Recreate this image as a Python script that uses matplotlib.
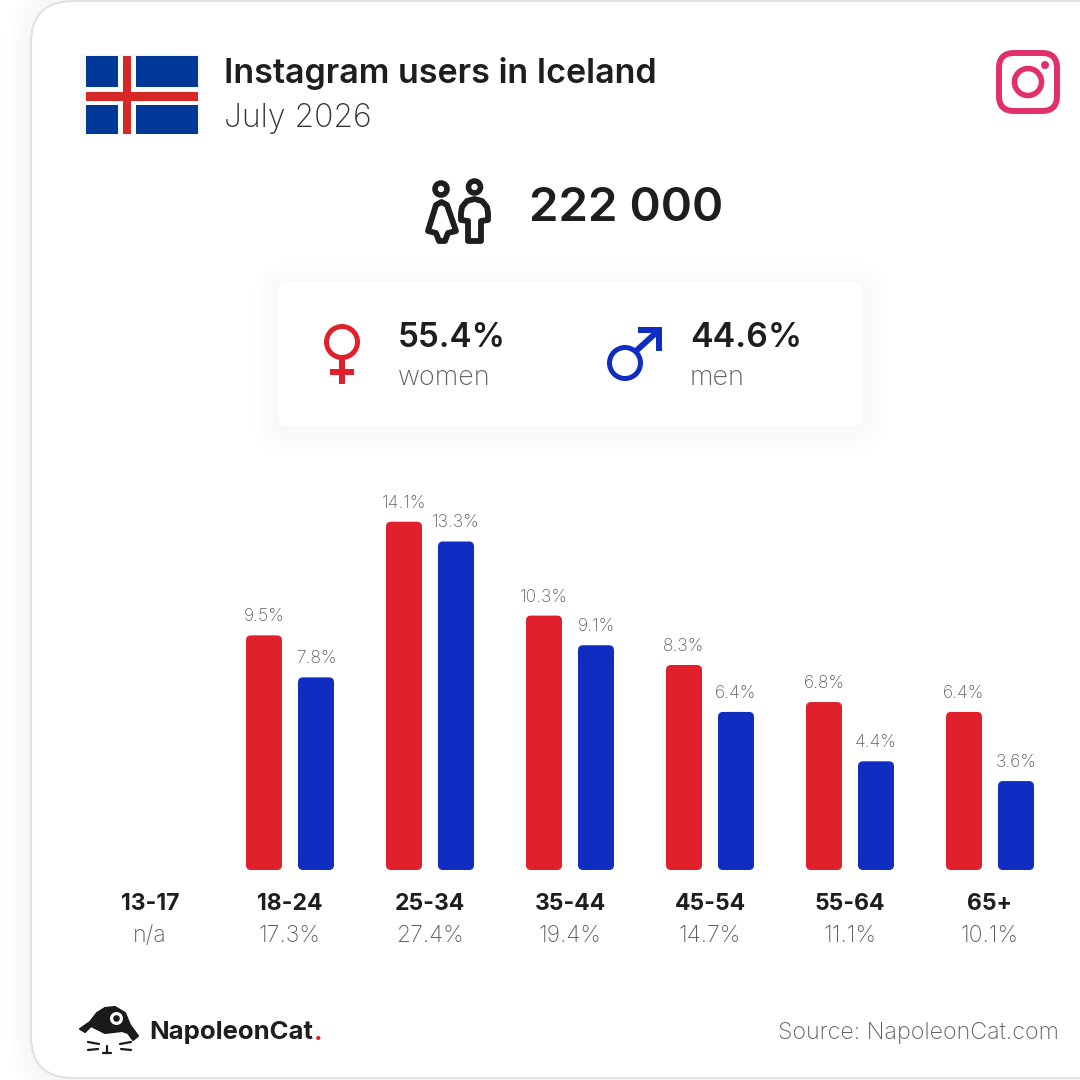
import numpy as np
import matplotlib
matplotlib.use('Agg')
import matplotlib.pyplot as plt
from matplotlib.patches import FancyBboxPatch, Circle, Rectangle, Polygon

# data
ages = ['13-17', '18-24', '25-34', '35-44', '45-54', '55-64', '65+']
age_share = ['n/a', '17.3%', '27.4%', '19.4%', '14.7%', '11.1%', '10.1%']
women = [None, 9.5, 14.1, 10.3, 8.3, 6.8, 6.4]
men = [None, 7.8, 13.3, 9.1, 6.4, 4.4, 3.6]
title = 'Instagram users in Iceland'
period = 'July 2026'
total = '222 000'
women_total = '55.4%'
men_total = '44.6%'

RED = '#e0202a'
BLUE = '#102dc2'
DARK = '#1e1e1e'
GREY = '#5f5f5f'
PINK = '#e1306c'
SANS = ['Inter', 'DejaVu Sans']
PX = 0.72  # font px to pt at dpi 100

fig = plt.figure(figsize=(10.8, 10.8), dpi=100, facecolor='white')

# whole canvas in pixels, y going down
bg = fig.add_axes([0, 0, 1, 1])
bg.set_xlim(0, 1080)
bg.set_ylim(1080, 0)
bg.axis('off')


def round_box(ax, x0, y0, x1, y1, r, **kw):
    p = FancyBboxPatch((x0, y0), x1 - x0, y1 - y0, boxstyle='round,pad=0,rounding_size=%g' % r, **kw)
    ax.add_patch(p)
    return p


def label(x, y, s, size, color=DARK, weight='normal', ha='left'):
    bg.text(x, y, s, fontsize=size * PX, color=color, fontweight=weight, ha=ha, va='center', family=SANS)


# outer card with soft shadow, low alpha steps of about one grey level
for g in range(24, 0, -3):
    round_box(bg, 31 - g, 1 - g, 1200, 1078 + g, 42 + g, fc='black', ec='none', alpha=0.0045)
round_box(bg, 31, 1, 1200, 1078, 42, fc='white', ec='#e2e2e2', lw=1.5)

# flag
bg.add_patch(Rectangle((80, 54), 120, 80, fc='#f7f7f7', ec='none'))
bg.add_patch(Rectangle((86, 56), 112, 78, fc='#003897', ec='none'))
bg.add_patch(Rectangle((118, 56), 17.5, 78, fc='white', ec='none'))
bg.add_patch(Rectangle((86, 87), 112, 18, fc='white', ec='none'))
bg.add_patch(Rectangle((122.5, 56), 8.5, 78, fc='#d72828', ec='none'))
bg.add_patch(Rectangle((86, 91.5), 112, 9, fc='#d72828', ec='none'))

label(224, 73, title, 34.1, weight='semibold')
label(224, 118, period, 32, color='#333333', weight='light')

# instagram icon
round_box(bg, 999, 53, 1057, 111, 15, fc='none', ec=PINK, lw=4.3)
bg.add_patch(Circle((1028, 82), 13.5, fc='none', ec=PINK, lw=4))
bg.add_patch(Circle((1045, 65), 4, fc=PINK, ec='none'))

# people icon
bg.add_patch(Circle((441, 189), 6, fc='none', ec=DARK, lw=4))
bg.add_patch(Circle((474.5, 187), 6, fc='none', ec=DARK, lw=4))
woman = [(441.5, 202), (436, 205), (428, 231), (436, 233), (439, 241), (445, 241), (448, 233), (456, 231), (447, 205)]
bg.add_patch(Polygon(woman, closed=True, fc='none', ec=DARK, lw=4.2, joinstyle='round'))
man = [(474.5, 199), (467, 201), (462, 207), (461, 213), (461, 220), (468, 221), (468, 241), (481, 241), (481, 221),
       (488, 220), (488, 213), (487, 207), (482, 201)]
bg.add_patch(Polygon(man, closed=True, fc='none', ec=DARK, lw=4.2, joinstyle='round'))
label(529, 209, total, 47.5, weight='semibold')

# gender panel
for g in range(24, 0, -4):
    round_box(bg, 278 - g, 282 - g + 4, 862 + g, 426 + g + 4, 8 + g, fc='black', ec='none', alpha=0.0045)
round_box(bg, 278, 282, 862, 426, 9, fc='white', ec='none')

bg.add_patch(Circle((342, 342), 15.5, fc='none', ec=RED, lw=3.6))
bg.add_patch(Rectangle((339, 358), 6, 26, fc=RED, ec='none'))
bg.add_patch(Rectangle((330, 369), 24, 6, fc=RED, ec='none'))
bg.add_patch(Circle((625, 363), 15.5, fc='none', ec=BLUE, lw=3.6))
bg.plot([636, 658], [351, 331], color=BLUE, lw=4.3, solid_capstyle='butt')
bg.add_patch(Rectangle((637.5, 327), 24.5, 6, fc=BLUE, ec='none'))
bg.add_patch(Rectangle((656, 327), 6, 24, fc=BLUE, ec='none'))

label(398, 338, women_total, 33.3, weight='semibold')
label(398, 378, 'women', 27, color=GREY, weight='light')
label(690, 338, men_total, 34, weight='semibold')
label(690, 378, 'men', 27, color=GREY, weight='light')

# bars, one x unit is one age group, y in percent
ax = fig.add_axes([80 / 1080, 210 / 1080, 980 / 1080, 370.5 / 1080])
ax.patch.set_alpha(0)
ax.set_xlim(-0.5, 6.5)
ax.set_ylim(0, 15)
ax.axis('off')
bar_w = 36 / 140
shift = 26 / 140
radius = 5 / 140
aspect = 140 / 24.7

for i in range(len(ages)):
    for vals, off, col in ((women, -shift, RED), (men, shift, BLUE)):
        v = vals[i]
        if v is None:
            continue
        ax.add_patch(FancyBboxPatch((i + off - bar_w / 2, 0), bar_w, v, boxstyle='round,pad=0,rounding_size=%g' % radius,
                                    mutation_aspect=aspect, fc=col, ec='none'))
        ax.annotate('%.1f%%' % v, (i + off, v), xytext=(0, 18.5 * PX), textcoords='offset points', ha='center',
                    va='center', fontsize=17.5 * PX, color=GREY, fontweight='light', family=SANS)
    ax.annotate(ages[i], (i, 0), xytext=(0, -34 * PX), textcoords='offset points', ha='center', va='center',
                fontsize=23 * PX, color=DARK, fontweight='bold', family=SANS, annotation_clip=False)
    ax.annotate(age_share[i], (i, 0), xytext=(0, -66 * PX), textcoords='offset points', ha='center', va='center',
                fontsize=23 * PX, color=GREY, fontweight='light', family=SANS, annotation_clip=False)

# napoleoncat logo
cat = [(80, 1029), (90, 1022), (97, 1013), (105, 1008), (115, 1007), (125, 1013), (130, 1025), (138, 1036),
       (133, 1040), (128, 1033), (122, 1031), (105, 1033), (91, 1026), (85, 1032)]
bg.add_patch(Polygon(cat, closed=True, fc='#1a1a1a', ec='#1a1a1a', lw=1.5, joinstyle='round'))
bg.add_patch(Circle((116.5, 1018.5), 6.5, fc='white', ec='none'))
bg.add_patch(Circle((116.5, 1018.5), 3.3, fc='#1a1a1a', ec='none'))
for xs, ys in (([88, 99], [1042, 1044]), ([88, 98], [1050, 1049]), ([120, 131], [1044, 1042]), ([121, 131], [1049, 1050]),
               ([107, 107], [1046, 1053]), ([103, 111], [1053, 1053])):
    bg.plot(xs, ys, color='#1a1a1a', lw=1.6, solid_capstyle='round')
label(149, 1033, 'NapoleonCat', 25.7, weight='bold')
label(314, 1033, '.', 25.7, color=RED, weight='bold')
label(1059, 1033, 'Source: NapoleonCat.com', 23.3, color=GREY, weight='light', ha='right')

fig.savefig('out.png', dpi=100)
